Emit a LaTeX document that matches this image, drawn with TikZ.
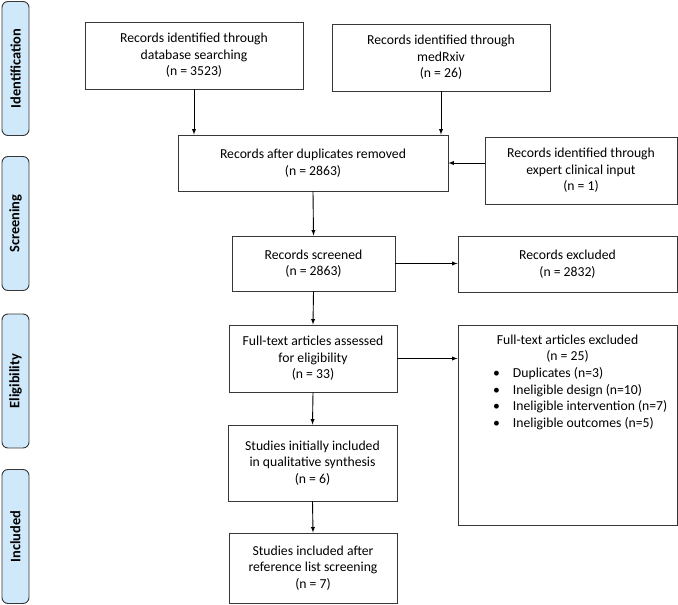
\documentclass[tikz,border=0pt]{standalone}
\usepackage{fontspec}
\setmainfont{Carlito}
\definecolor{tabblue}{RGB}{207,232,250}
\definecolor{linegrey}{RGB}{55,55,55}
\begin{document}
\begin{tikzpicture}[x=1pt,y=-1pt,>=latex,font=\fontsize{13.7}{16.6}\selectfont]
                \tikzset{
                box/.style={draw=linegrey,line width=0.9pt,align=center,inner sep=2pt},
                stage/.style={draw=linegrey,fill=tabblue,line width=0.9pt,rounded corners=6pt,minimum width=27pt,minimum height=134pt},
                flow/.style={->,line width=0.9pt,draw=black}
                }
                \useasboundingbox (0,0) rectangle (678,605);
                % stage tabs
                \foreach \y/\lab/\name in {68.5/Identification/idtab,223.5/Screening/sctab,381/Eligibility/eltab,536.5/Included/intab}
                {
                \node[stage] (\name) at (15.5,\y) {};
                \node[rotate=90,font=\fontsize{14.4}{17}\selectfont\bfseries] at (\name.center) {\lab};
                }
                % boxes
                \node[box,minimum width=218pt,minimum height=67pt] (db) at (194,55.5) {Records identified through\\database searching\\(n = 3523)};
                \node[box,minimum width=218pt,minimum height=67pt] (med) at (441,57.5) {Records identified through\\medRxiv\\(n = 26)};
                \node[box,minimum width=270pt,minimum height=56pt] (dup) at (313,163) {Records after duplicates removed\\(n = 2863)};
                \node[box,minimum width=192pt,minimum height=67pt] (expert) at (581,170.5) {Records identified through\\expert clinical input\\(n = 1)};
                \node[box,minimum width=163pt,minimum height=55pt] (screen) at (313.5,263.5) {Records screened\\(n = 2863)};
                \node[box,minimum width=219pt,minimum height=56pt] (excl) at (567.5,264) {Records excluded\\(n = 2832)};
                \node[box,minimum width=168pt,minimum height=67pt] (full) at (313,358.5) {Full-text articles assessed\\for eligibility\\(n = 33)};
                \node[box,minimum width=219pt,minimum height=200pt] (fullex) at (567.5,425) {};
                \node[anchor=north,align=center,inner sep=0pt] (fullextxt) at ([yshift=-10pt]fullex.north) {Full-text articles excluded\\(n = 25)\\
                \makebox[149pt][l]{\makebox[20pt][l]{\textbullet}Duplicates (n=3)}\\
                \makebox[149pt][l]{\makebox[20pt][l]{\textbullet}Ineligible design (n=10)}\\
                \makebox[149pt][l]{\makebox[20pt][l]{\textbullet}Ineligible intervention (n=7)}\\
                \makebox[149pt][l]{\makebox[20pt][l]{\textbullet}Ineligible outcomes (n=5)}};
                \node[box,minimum width=169pt,minimum height=76pt] (init) at (312.5,463) {Studies initially included\\in qualitative synthesis\\(n = 6)};
                \node[box,minimum width=168pt,minimum height=70pt] (final) at (313,568) {Studies included after\\reference list screening\\(n = 7)};
                % connectors
                \draw[flow] (db.south) -- (db.south |- dup.north);
                \draw[flow] (med.south) -- (med.south |- dup.north);
                \draw[flow] (dup.east -| expert.west) -- (dup.east);
                \draw[flow] (dup.south) -- (screen.north);
                \draw[flow] (screen.east) -- (screen.east -| excl.west);
                \draw[flow] (screen.south) -- (full.north);
                \draw[flow] (full.east) -- (full.east -| fullex.west);
                \draw[flow] (full.south) -- (init.north);
                \draw[flow] (init.south) -- (final.north);
            \end{tikzpicture}
\end{document}
